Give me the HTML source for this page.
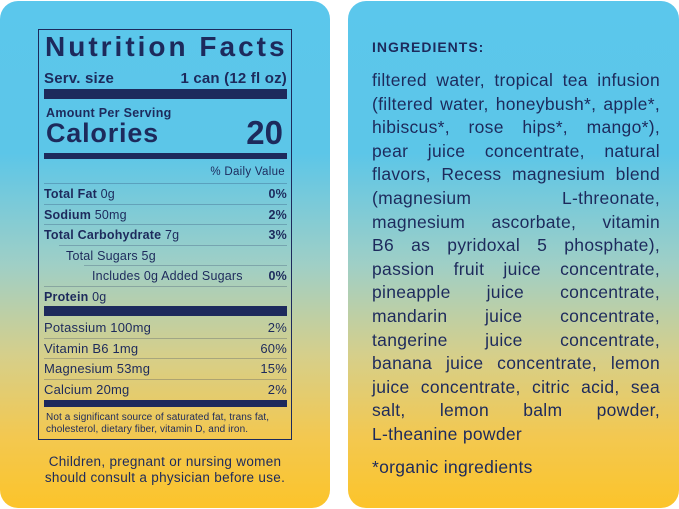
<!DOCTYPE html>
<html><head><meta charset="utf-8"><style>
*{margin:0;padding:0;box-sizing:border-box}
body{width:679px;height:509px;background:#fff;position:relative;overflow:hidden;font-family:"Liberation Sans",sans-serif;color:#1d2a5c}
.card{position:absolute;top:1px;height:507px;border-radius:18px;background:linear-gradient(180deg,#5bc7ec 0%,#5cc6e8 30%,#9fcfc6 52%,#d6cf8a 70%,#f3c850 86%,#fcc42a 100%)}
#l{left:0;width:330px}
#r{left:348px;width:331px}
.box{position:absolute;left:38px;top:29px;width:254px;height:411px;border:1px solid #1d2a5c}
.t{position:absolute;white-space:nowrap}
.bar{position:absolute;left:5px;width:243px;background:#1d2a5c}
.hr{position:absolute;left:5px;width:243px;height:1px;background:rgba(29,42,92,.25)}
.row{position:absolute;left:5px;width:243px;font-size:12.5px;display:flex;justify-content:space-between;line-height:14px;letter-spacing:0.2px}
.row b{font-weight:bold}
.ing{position:absolute;left:372px;top:69px;width:288px;font-size:17.5px;line-height:23.6px;color:#1d2a5c;letter-spacing:0.3px}
.ing div{text-align:justify;text-align-last:justify;white-space:nowrap}
</style></head><body>
<div class="card" id="l"></div>
<div class="card" id="r"></div>
<div class="box">
<div class="t" style="left:6px;top:1px;font-size:28px;font-weight:bold;letter-spacing:3px">Nutrition Facts</div>
<div class="row" style="top:40px;font-size:15px;line-height:17px;font-weight:bold"><span>Serv. size</span><span>1 can (12 fl oz)</span></div>
<div class="bar" style="top:59px;height:10px"></div>
<div class="t" style="left:7px;top:76px;font-size:12.5px;font-weight:bold;letter-spacing:0.3px">Amount Per Serving</div>
<div class="t" style="left:7px;top:88px;font-size:27px;font-weight:bold;letter-spacing:0.8px">Calories</div>
<div class="t" style="right:8px;top:84px;font-size:33px;font-weight:bold">20</div>
<div class="bar" style="top:123px;height:6px"></div>
<div class="t" style="right:6px;top:136px;font-size:11.5px;letter-spacing:0.3px">% Daily Value</div>
<div class="hr" style="top:153px"></div>
<div class="row" style="top:157px"><span><b>Total Fat</b> 0g</span><b>0%</b></div>
<div class="hr" style="top:174px"></div>
<div class="row" style="top:178px"><span><b>Sodium</b> 50mg</span><b>2%</b></div>
<div class="hr" style="top:194px"></div>
<div class="row" style="top:198px"><span><b>Total Carbohydrate</b> 7g</span><b>3%</b></div>
<div class="hr" style="left:20px;width:228px;top:215px"></div>
<div class="row" style="top:219px;padding-left:22px"><span>Total Sugars 5g</span><span></span></div>
<div class="hr" style="left:45px;width:203px;top:235px"></div>
<div class="row" style="top:239px;padding-left:48px"><span>Includes 0g Added Sugars</span><b>0%</b></div>
<div class="hr" style="top:256px"></div>
<div class="row" style="top:260px"><span><b>Protein</b> 0g</span><span></span></div>
<div class="bar" style="top:276px;height:10px"></div>
<div class="row" style="top:291px;font-size:13px"><span>Potassium 100mg</span><span>2%</span></div>
<div class="hr" style="top:308px"></div>
<div class="row" style="top:312px;font-size:13px"><span>Vitamin B6 1mg</span><span>60%</span></div>
<div class="hr" style="top:328px"></div>
<div class="row" style="top:332px;font-size:13px"><span>Magnesium 53mg</span><span>15%</span></div>
<div class="hr" style="top:349px"></div>
<div class="row" style="top:353px;font-size:13px"><span>Calcium 20mg</span><span>2%</span></div>
<div class="bar" style="top:370px;height:7px"></div>
<div class="t" style="left:7px;top:382px;font-size:10px;line-height:12px;letter-spacing:0.1px">Not a significant source of saturated fat, trans fat,<br>cholesterol, dietary fiber, vitamin D, and iron.</div>
</div>
<div class="t" style="left:0;width:330px;top:454px;font-size:13.5px;line-height:16px;text-align:center;letter-spacing:0.3px">Children, pregnant or nursing women<br>should consult a physician before use.</div>
<div class="t" style="left:372px;top:39px;font-size:14px;font-weight:bold;letter-spacing:1px">INGREDIENTS:</div>
<div class="ing">
<div>filtered water, tropical tea infusion</div>
<div>(filtered water, honeybush*, apple*,</div>
<div>hibiscus*, rose hips*, mango*),</div>
<div>pear juice concentrate, natural</div>
<div>flavors, Recess magnesium blend</div>
<div>(magnesium L-threonate,</div>
<div>magnesium ascorbate, vitamin</div>
<div>B6 as pyridoxal 5 phosphate),</div>
<div>passion fruit juice concentrate,</div>
<div>pineapple juice concentrate,</div>
<div>mandarin juice concentrate,</div>
<div>tangerine juice concentrate,</div>
<div>banana juice concentrate, lemon</div>
<div>juice concentrate, citric acid, sea</div>
<div>salt, lemon balm powder,</div>
<div style="text-align-last:left">L-theanine powder</div>
</div>
<div class="t" style="left:372px;top:457px;font-size:17.5px;letter-spacing:0.3px">*organic ingredients</div>
</body></html>
